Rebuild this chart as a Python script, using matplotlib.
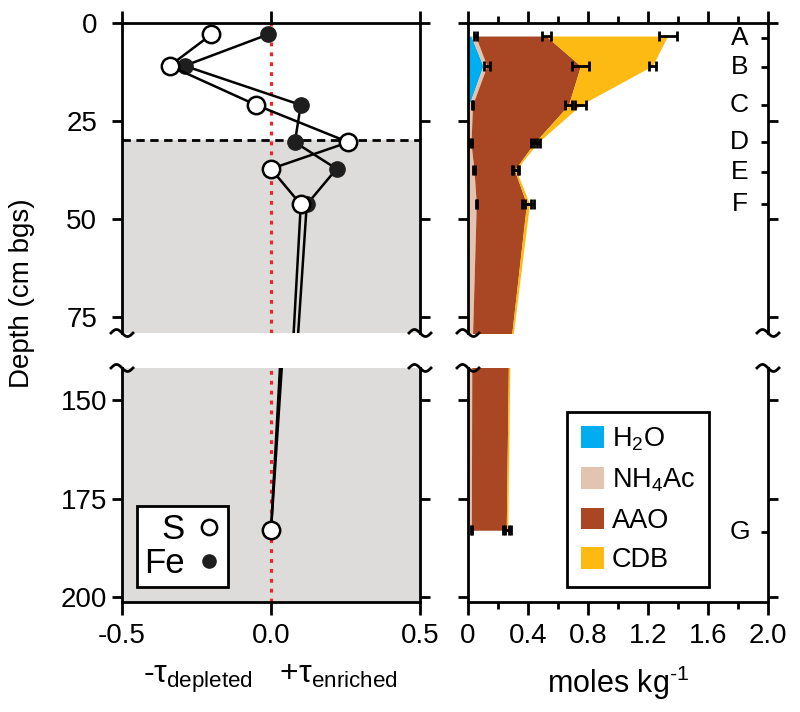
import numpy as np
import matplotlib
matplotlib.use("Agg")
import matplotlib.pyplot as plt
from matplotlib.lines import Line2D
from matplotlib.transforms import ScaledTranslation

plt.rcParams['font.family'] = ['Liberation Sans', 'DejaVu Sans']
plt.rcParams['mathtext.fontset'] = 'custom'
plt.rcParams['mathtext.rm'] = 'Liberation Sans'
plt.rcParams['mathtext.it'] = 'Liberation Sans'
plt.rcParams['mathtext.bf'] = 'Liberation Sans:bold'

# ---------------- data ----------------
# left panel: tau values (S open, Fe filled) vs depth (cm)
depth_tau = [3.0, 11.0, 21.0, 30.5, 37.3, 46.4, 183.0]
tau_S = [-0.20, -0.34, -0.05, 0.26, 0.00, 0.10, 0.00]
tau_Fe = [-0.01, -0.29, 0.10, 0.08, 0.22, 0.12, 0.00]
series_names = ['S', 'Fe']
horizon_depth = 30.0

# right panel: sequential extraction (moles/kg) vs depth
depth_ext = [3.4, 11.0, 21.0, 30.8, 37.6, 46.2, 80.0, 183.0]
h2o = [0.02, 0.10, 0.007, 0.0, 0.0, 0.0, 0.0, 0.0]
nh4ac = [0.03, 0.026, 0.023, 0.02, 0.04, 0.055, 0.03, 0.022]
aao = [0.47, 0.624, 0.64, 0.42, 0.27, 0.335, 0.26, 0.233]
cdb = [0.81, 0.48, 0.08, 0.02, 0.01, 0.02, 0.01, 0.01]
err_nh4 = [0.01, 0.02, 0.005, 0.005, 0.005, 0.005, np.nan, 0.005]
err_aao = [0.03, 0.055, 0.025, 0.02, 0.02, 0.03, np.nan, 0.02]
err_cdb = [0.06, 0.025, 0.035, 0.02, 0.02, 0.03, np.nan, 0.02]
fraction_labels = ['H$_2$O', 'NH$_4$Ac', 'AAO', 'CDB']
fraction_colors = ['#00aeef', '#e2c4b0', '#a94725', '#fdba13']
sample_labels = ['A', 'B', 'C', 'D', 'E', 'F', 'G']
sample_depth = [3.8, 11.3, 21.0, 30.5, 38.0, 46.2, 183.4]

tau_ticks = [-0.5, 0.0, 0.5]
tau_ticklabels = ['-0.5', '0.0', '0.5']
mol_ticks = [0, 0.4, 0.8, 1.2, 1.6, 2.0]
mol_ticklabels = ['0', '0.4', '0.8', '1.2', '1.6', '2.0']
depth_ticks_top = [0, 25, 50, 75]
depth_ticks_bot = [150, 175, 200]

TOP_LIM = (79.2, 0.0)
BOT_LIM = (201.3, 141.9)

# ---------------- figure ----------------
fig = plt.figure(figsize=(8, 7.12), dpi=100)
Lx, Lw = 0.1525, 0.3725
Rx, Rw = 0.585, 0.375
Tb, Th = 0.5323, 0.4358
Bb, Bh = 0.1538, 0.3294
axLT = fig.add_axes([Lx, Tb, Lw, Th])
axLB = fig.add_axes([Lx, Bb, Lw, Bh])
axRT = fig.add_axes([Rx, Tb, Rw, Th])
axRB = fig.add_axes([Rx, Bb, Rw, Bh])

grey = '#dddcdb'
LW = 2.0
TFS = 20

# ---- left panel ----
axLT.axhspan(horizon_depth, 500, color=grey, lw=0, zorder=0)
axLB.set_facecolor(grey)
axLT.axhline(horizon_depth, color='black', lw=2, ls=(0, (3, 2)), zorder=3)
for ax in (axLT, axLB):
    ax.axvline(0, color='#e8262b', lw=2.3, ls=(0, (1.2, 1.9)), zorder=2)
    ax.plot(tau_Fe, depth_tau, '-o', color='black', lw=1.8, ms=11,
            mfc='#1e1e1e', mec='#1e1e1e', zorder=4)
    ax.plot(tau_S, depth_tau, '-o', color='black', lw=1.8, ms=12.5,
            mfc='white', mec='black', mew=1.8, zorder=5)
    ax.set_xlim(-0.5, 0.5)

# ---- right panel ----
c1 = np.array(h2o)
c2 = c1 + np.array(nh4ac)
c3 = c2 + np.array(aao)
c4 = c3 + np.array(cdb)
handles = None
for ax in (axRT, axRB):
    f1 = ax.fill_betweenx(depth_ext, 0, c1, color=fraction_colors[0], lw=0)
    f2 = ax.fill_betweenx(depth_ext, c1, c2, color=fraction_colors[1], lw=0)
    f3 = ax.fill_betweenx(depth_ext, c2, c3, color=fraction_colors[2], lw=0)
    f4 = ax.fill_betweenx(depth_ext, c3, c4, color=fraction_colors[3], lw=0)
    handles = [f1, f2, f3, f4]
    for c, e in ((c2, err_nh4), (c3, err_aao), (c4, err_cdb)):
        e = np.array(e)
        m = ~np.isnan(e)
        ax.errorbar(c[m], np.array(depth_ext)[m], xerr=e[m], fmt='none',
                    ecolor='black', elinewidth=2, capsize=3.5, capthick=2, zorder=5)
    ax.set_xlim(0, 2.0)

# sample letters
for lab, d in zip(sample_labels, sample_depth):
    ax = axRT if d < TOP_LIM[0] else axRB
    ax.text(1.81, d, lab, ha='center', va='center', fontsize=19)

# ---- axes styling ----
for ax in (axLT, axRT):
    ax.set_ylim(*TOP_LIM)
    ax.spines['bottom'].set_visible(False)
    ax.set_yticks(depth_ticks_top)
    ax.xaxis.set_ticks_position('top')
for ax in (axLB, axRB):
    ax.set_ylim(*BOT_LIM)
    ax.spines['top'].set_visible(False)
    ax.set_yticks(depth_ticks_bot)
    ax.xaxis.set_ticks_position('bottom')
for ax in (axLT, axLB, axRT, axRB):
    for s in ax.spines.values():
        s.set_linewidth(LW)
    ax.tick_params(axis='y', which='major', left=True, right=True,
                   direction='out', length=7, width=2, labelsize=TFS)
    ax.tick_params(axis='x', which='major', direction='out', length=9,
                   width=2, labelsize=TFS, pad=6)
    ax.tick_params(axis='x', which='minor', direction='out', length=5, width=2)

for ax in (axLT, axLB):
    ax.set_xticks(tau_ticks)
for ax in (axRT, axRB):
    ax.set_xticks(mol_ticks)
    ax.set_xticks(np.arange(0.2, 2.0, 0.4), minor=True)

axLT.set_xticklabels([])
axRT.set_xticklabels([])
axLB.set_xticklabels(tau_ticklabels)
axRB.set_xticklabels(mol_ticklabels)
axLT.set_yticklabels([str(t) for t in depth_ticks_top])
axLB.set_yticklabels([str(t) for t in depth_ticks_bot])
axLT.tick_params(axis='y', pad=11)
axLB.tick_params(axis='y', pad=3.5)
axRT.set_yticklabels([])
axRB.set_yticklabels([])

# sample depth ticks on right spine of right panel
axRT.set_yticks([d for d in sample_depth if d < TOP_LIM[0]], minor=True)
axRB.set_yticks([d for d in sample_depth if d > TOP_LIM[0]], minor=True)
for ax in (axRT, axRB):
    ax.tick_params(axis='y', which='minor', left=False, right=True,
                   direction='in', length=5, width=2)
for ax in (axLT, axLB):
    ax.tick_params(axis='y', which='minor', left=False, right=False)

# ---- break squiggles ----
def squiggle(ax, xa, ya):
    t = np.linspace(-1, 1, 50)
    dx = 0.11 * t
    dy = 0.035 * np.sin(-np.pi * t)
    tr = fig.dpi_scale_trans + ScaledTranslation(xa, ya, ax.transAxes)
    ax.plot(dx, dy, transform=tr, color='black', lw=2, clip_on=False,
            zorder=10, scalex=False, scaley=False)

for ax in (axLT, axRT):
    squiggle(ax, 0, 0)
    squiggle(ax, 1, 0)
for ax in (axLB, axRB):
    squiggle(ax, 0, 1)
    squiggle(ax, 1, 1)

# ---- legends ----
leg_h = [Line2D([], [], marker='o', ls='none', mfc='white', mec='black', mew=1.8, ms=11),
         Line2D([], [], marker='o', ls='none', mfc='#1e1e1e', mec='#1e1e1e', ms=9.5)]
lg = axLB.legend(leg_h, series_names, loc='lower left', bbox_to_anchor=(0.05, 0.066),
                 markerfirst=False, fontsize=25, frameon=True, fancybox=False,
                 edgecolor='black', framealpha=1, handlelength=0.7,
                 handletextpad=0.35, labelspacing=0.02, borderpad=0.2,
                 borderaxespad=0)
lg.get_frame().set_linewidth(2)

lg2 = axRB.legend(handles, fraction_labels, loc='lower left', bbox_to_anchor=(0.33, 0.066),
                  fontsize=19.5, frameon=True, fancybox=False, edgecolor='black',
                  framealpha=1, handlelength=0.85, handleheight=0.85,
                  labelspacing=0.5, handletextpad=0.3, borderpad=0.5,
                  borderaxespad=0)
lg2.get_frame().set_linewidth(2)

# ---- labels ----
fig.text(22 / 800, 1 - 293 / 712, 'Depth (cm bgs)', rotation=90, ha='center',
         va='center', fontsize=20)
fig.text(270 / 800, 1 - 683 / 712,
         r'-$\tau_{\mathrm{depleted}}$   +$\tau_{\mathrm{enriched}}$',
         ha='center', va='baseline', fontsize=23)
fig.text(618 / 800, 1 - 693 / 712, r'moles kg$^{\text{-1}}$', ha='center',
         va='baseline', fontsize=22)

fig.savefig('out.png', dpi=100)
